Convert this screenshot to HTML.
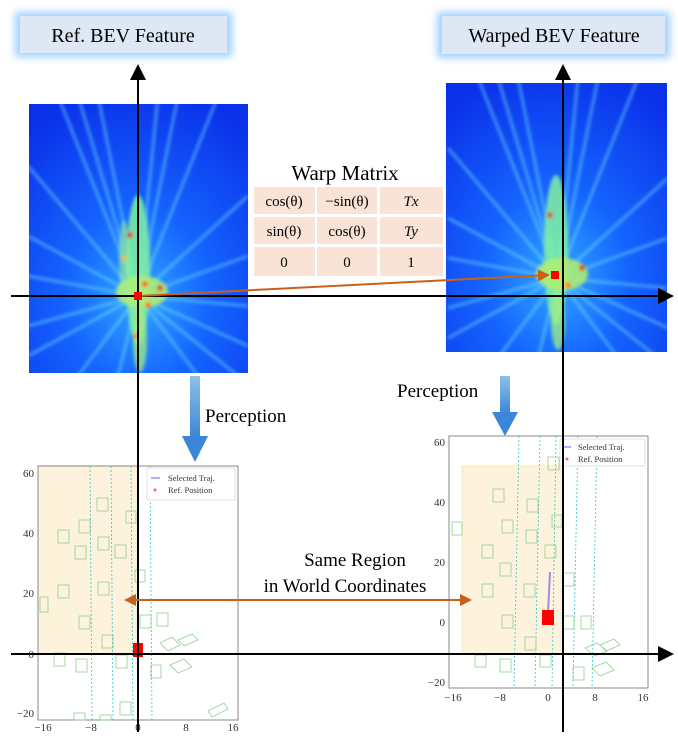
<!DOCTYPE html>
<html><head><style>
body{margin:0;background:#fff;width:678px;height:732px;overflow:hidden;font-family:"Liberation Serif",serif;}
</style></head><body>
<svg width="678" height="732" viewBox="0 0 678 732" xmlns="http://www.w3.org/2000/svg" font-family="Liberation Serif, serif">
<defs>
<filter id="glow" x="-20%" y="-50%" width="140%" height="200%"><feGaussianBlur stdDeviation="4"/></filter>
<filter id="bl" x="-20%" y="-20%" width="140%" height="140%"><feGaussianBlur stdDeviation="1.5"/></filter>
<radialGradient id="hm" cx="0.5" cy="0.72" r="0.8">
<stop offset="0" stop-color="#30a8ff"/><stop offset="0.4" stop-color="#1565ff"/><stop offset="1" stop-color="#0a30e8"/></radialGradient>
<linearGradient id="ar" x1="0" y1="0" x2="0" y2="1"><stop offset="0" stop-color="#8fc0e8"/><stop offset="1" stop-color="#3a86d8"/></linearGradient>
<clipPath id="c1"><rect x="29" y="104" width="219" height="269"/></clipPath>
<clipPath id="c2"><rect x="446" y="83" width="221" height="269"/></clipPath>
<marker id="ah" markerWidth="8" markerHeight="8" refX="7" refY="4" orient="auto"><path d="M0,0 L8,4 L0,8z" fill="#000"/></marker>
<marker id="oh" markerWidth="6" markerHeight="6" refX="5" refY="3" orient="auto-start-reverse"><path d="M0,0 L6,3 L0,6z" fill="#c8601a"/></marker>
<g id="rays" stroke="#70e0ff" stroke-opacity="0.5" stroke-width="3">
<line x1="0" y1="0" x2="-80" y2="-200"/><line x1="0" y1="0" x2="-40" y2="-200"/><line x1="0" y1="0" x2="-60" y2="-200"/><line x1="0" y1="0" x2="40" y2="-200"/><line x1="0" y1="0" x2="80" y2="-200"/><line x1="0" y1="0" x2="20" y2="-200"/>
<line x1="0" y1="0" x2="-110" y2="-130"/><line x1="0" y1="0" x2="-110" y2="-60"/><line x1="0" y1="0" x2="-110" y2="-20"/><line x1="0" y1="0" x2="-110" y2="30"/><line x1="0" y1="0" x2="-110" y2="60"/>
<line x1="0" y1="0" x2="110" y2="-100"/><line x1="0" y1="0" x2="110" y2="-40"/><line x1="0" y1="0" x2="110" y2="10"/><line x1="0" y1="0" x2="110" y2="50"/>
<line x1="0" y1="0" x2="-60" y2="80"/><line x1="0" y1="0" x2="60" y2="80"/><line x1="0" y1="0" x2="-20" y2="80"/><line x1="0" y1="0" x2="100" y2="80"/>
</g>
</defs>

<rect x="15" y="12" width="217" height="45" fill="#9fd0ff" filter="url(#glow)"/>
<rect x="20" y="16" width="207" height="37" fill="#dde8f4"/>
<text x="123" y="42" font-size="20" text-anchor="middle">Ref. BEV Feature</text>
<rect x="437" y="12" width="233" height="46" fill="#9fd0ff" filter="url(#glow)"/>
<rect x="442" y="16" width="223" height="38" fill="#dde8f4"/>
<text x="554" y="42" font-size="20" text-anchor="middle">Warped BEV Feature</text>

<g clip-path="url(#c1)">
<rect x="29" y="104" width="219" height="269" fill="url(#hm)"/>
<use href="#rays" transform="translate(138,296)" filter="url(#bl)"/>
<g filter="url(#bl)">
<ellipse cx="138" cy="270" rx="12" ry="75" fill="#80f0a0" opacity="0.85"/>
<ellipse cx="142" cy="292" rx="26" ry="16" fill="#b0f070" opacity="0.85"/>
<ellipse cx="140" cy="340" rx="7" ry="32" fill="#a0f080" opacity="0.75"/>
<ellipse cx="124" cy="260" rx="5" ry="40" fill="#9ff090" opacity="0.6"/>
<circle cx="130" cy="235" r="3" fill="#e02000"/><circle cx="160" cy="288" r="3" fill="#e02000"/><circle cx="145" cy="284" r="3" fill="#ff5000"/><circle cx="148" cy="305" r="3" fill="#ff7000"/><circle cx="136" cy="336" r="2.5" fill="#ff5000"/><circle cx="124" cy="258" r="2.5" fill="#ffb000"/>
</g>
</g>
<g clip-path="url(#c2)">
<rect x="446" y="83" width="221" height="269" fill="url(#hm)"/>
<use href="#rays" transform="translate(558,278)" filter="url(#bl)"/>
<g filter="url(#bl)">
<ellipse cx="556" cy="250" rx="12" ry="75" fill="#80f0a0" opacity="0.85"/>
<ellipse cx="562" cy="274" rx="26" ry="16" fill="#b0f070" opacity="0.85"/>
<ellipse cx="558" cy="320" rx="7" ry="30" fill="#a0f080" opacity="0.75"/>
<circle cx="550" cy="215" r="3" fill="#e02000"/><circle cx="582" cy="268" r="3" fill="#e02000"/><circle cx="568" cy="285" r="3" fill="#ff7000"/>
</g>
</g>

<text x="345" y="180" font-size="21" text-anchor="middle">Warp Matrix</text>
<g fill="#f9e3d6">
<rect x="254" y="187" width="61" height="27"/><rect x="317" y="187" width="60" height="27"/><rect x="380" y="187" width="63" height="27"/>
<rect x="254" y="217" width="61" height="27"/><rect x="317" y="217" width="60" height="27"/><rect x="380" y="217" width="63" height="27"/>
<rect x="254" y="247" width="61" height="29"/><rect x="317" y="247" width="60" height="29"/><rect x="380" y="247" width="63" height="29"/>
</g>
<g font-size="15" text-anchor="middle">
<text x="284" y="206">cos(θ)</text><text x="347" y="206">−sin(θ)</text><text x="411" y="206" font-style="italic">Tx</text>
<text x="284" y="236">sin(θ)</text><text x="347" y="236">cos(θ)</text><text x="411" y="236" font-style="italic">Ty</text>
<text x="284" y="267">0</text><text x="347" y="267">0</text><text x="411" y="267">1</text>
</g>

<rect x="190" y="376" width="10" height="62" fill="url(#ar)"/>
<path d="M182,436 L208,436 L195,462z" fill="#3a86d8"/>
<text x="205" y="422" font-size="19">Perception</text>
<rect x="500" y="376" width="10" height="38" fill="url(#ar)"/>
<path d="M492,412 L518,412 L505,436z" fill="#3a86d8"/>
<text x="397" y="397" font-size="19">Perception</text>

<rect x="38" y="466" width="100" height="188" fill="#fdf3dc" stroke="#f3d27a" stroke-width="0.8" stroke-dasharray="1,1"/>
<rect x="38" y="466" width="200" height="254" fill="none" stroke="#888" stroke-width="1"/>
<g stroke="#30c8c8" stroke-width="0.8" stroke-dasharray="2,2">
<line x1="90" y1="466" x2="92" y2="720"/><line x1="111" y1="466" x2="113" y2="720"/><line x1="131" y1="466" x2="133" y2="720"/><line x1="150" y1="466" x2="152" y2="720"/>
</g>
<g fill="none" stroke="#8fd08f" stroke-width="0.8">
<rect x="58" y="530" width="11" height="13"/><rect x="79" y="520" width="11" height="13"/><rect x="97" y="498" width="11" height="13"/>
<rect x="98" y="537" width="11" height="13"/><rect x="115" y="545" width="11" height="13"/><rect x="75" y="546" width="11" height="13"/>
<rect x="58" y="585" width="11" height="13"/><rect x="98" y="582" width="11" height="13"/><rect x="79" y="616" width="11" height="13"/>
<rect x="102" y="635" width="11" height="13"/><rect x="40" y="597" width="8" height="15"/><rect x="126" y="511" width="10" height="12"/>
<rect x="135" y="570" width="10" height="12"/><rect x="140" y="615" width="11" height="13"/><rect x="157" y="613" width="11" height="13"/>
<rect x="54" y="653" width="11" height="13"/><rect x="76" y="659" width="11" height="13"/><rect x="116" y="655" width="11" height="13"/>
<rect x="151" y="665" width="10" height="13"/><rect x="120" y="702" width="11" height="13"/><rect x="74" y="713" width="11" height="7"/><rect x="100" y="715" width="11" height="5"/>
<path d="M160,643 l12,-6 l8,8 l-12,6z M178,640 l14,-6 l6,6 l-14,6z M170,665 l14,-6 l8,8 l-14,6z M208,711 l16,-8 l4,6 l-16,8z"/>
</g>
<rect x="133" y="643" width="10" height="14" fill="#f00"/>
<rect x="147" y="468" width="88" height="32" fill="#fff" stroke="#ccc" stroke-width="0.6"/>
<line x1="151" y1="478" x2="160" y2="478" stroke="#6060ff"/><circle cx="155" cy="490" r="1.5" fill="#f66"/>
<g font-size="8.5" fill="#333"><text x="168" y="481">Selected Traj.</text><text x="168" y="493">Ref. Position</text></g>
<g font-size="11" fill="#333" text-anchor="end">
<text x="34" y="477">60</text><text x="34" y="537">40</text><text x="34" y="597">20</text><text x="34" y="658">0</text><text x="34" y="717">−20</text>
</g>
<g font-size="11" fill="#333" text-anchor="middle">
<text x="43" y="731">−16</text><text x="91" y="731">−8</text><text x="138" y="731">0</text><text x="186" y="731">8</text><text x="233" y="731">16</text>
</g>

<rect x="462" y="466" width="99" height="188" fill="#fdf3dc" stroke="#f3d27a" stroke-width="0.8" stroke-dasharray="1,1"/>
<rect x="449" y="436" width="199" height="252" fill="none" stroke="#888" stroke-width="1"/>
<g stroke="#30c8c8" stroke-width="0.8" stroke-dasharray="2,2">
<line x1="519" y1="436" x2="514" y2="688"/><line x1="540" y1="436" x2="535" y2="688"/><line x1="556" y1="436" x2="552" y2="688"/><line x1="578" y1="436" x2="573" y2="688"/><line x1="597" y1="436" x2="592" y2="688"/>
</g>
<g fill="none" stroke="#8fd08f" stroke-width="0.8">
<rect x="493" y="489" width="11" height="13"/><rect x="527" y="499" width="11" height="13"/><rect x="502" y="520" width="11" height="13"/>
<rect x="452" y="522" width="10" height="13"/><rect x="526" y="530" width="11" height="13"/><rect x="482" y="545" width="11" height="13"/>
<rect x="545" y="545" width="11" height="13"/><rect x="500" y="563" width="11" height="13"/><rect x="482" y="584" width="11" height="13"/>
<rect x="524" y="584" width="11" height="13"/><rect x="502" y="615" width="11" height="13"/><rect x="525" y="637" width="11" height="13"/>
<rect x="548" y="457" width="11" height="13"/><rect x="552" y="515" width="10" height="12"/><rect x="563" y="573" width="11" height="13"/>
<rect x="563" y="616" width="11" height="13"/><rect x="581" y="616" width="10" height="13"/><rect x="475" y="655" width="11" height="12"/>
<rect x="500" y="659" width="11" height="13"/><rect x="540" y="655" width="11" height="12"/><rect x="573" y="667" width="11" height="13"/>
<path d="M585,648 l12,-5 l10,8 l-12,5z M600,645 l14,-6 l6,6 l-14,6z M592,668 l14,-6 l8,8 l-14,6z"/>
</g>
<line x1="548" y1="613" x2="550" y2="572" stroke="#9a90e0" stroke-width="2"/>
<rect x="542" y="610" width="12" height="15" fill="#f00"/>
<rect x="560" y="439" width="85" height="27" fill="#fff" stroke="#ccc" stroke-width="0.6"/>
<line x1="563" y1="447" x2="571" y2="447" stroke="#6060ff"/><circle cx="567" cy="459" r="1.5" fill="#f66"/>
<g font-size="8.5" fill="#333"><text x="578" y="450">Selected Traj.</text><text x="578" y="462">Ref. Position</text></g>
<g font-size="11" fill="#333" text-anchor="end">
<text x="445" y="446">60</text><text x="445" y="506">40</text><text x="445" y="566">20</text><text x="445" y="626">0</text><text x="445" y="686">−20</text>
</g>
<g font-size="11" fill="#333" text-anchor="middle">
<text x="453" y="701">−16</text><text x="500" y="701">−8</text><text x="548" y="701">0</text><text x="595" y="701">8</text><text x="643" y="701">16</text>
</g>

<g stroke="#000" stroke-width="2">
<line x1="138" y1="732" x2="138" y2="66" marker-end="url(#ah)"/>
<line x1="11" y1="296" x2="672" y2="296" marker-end="url(#ah)"/>
<line x1="563" y1="732" x2="563" y2="66" marker-end="url(#ah)"/>
<line x1="11" y1="654" x2="672" y2="654" marker-end="url(#ah)"/>
</g>
<line x1="138" y1="296" x2="548" y2="275" stroke="#c8601a" stroke-width="2" marker-end="url(#oh)"/>
<rect x="134" y="292" width="8" height="8" fill="#f00"/>
<rect x="551" y="271" width="8" height="8" fill="#f00"/>

<line x1="126" y1="600" x2="470" y2="600" stroke="#c8601a" stroke-width="2" marker-start="url(#oh)" marker-end="url(#oh)"/>
<text x="355" y="566" font-size="19" text-anchor="middle">Same Region</text>
<text x="345" y="592" font-size="19" text-anchor="middle">in World Coordinates</text>
</svg>
</body></html>
